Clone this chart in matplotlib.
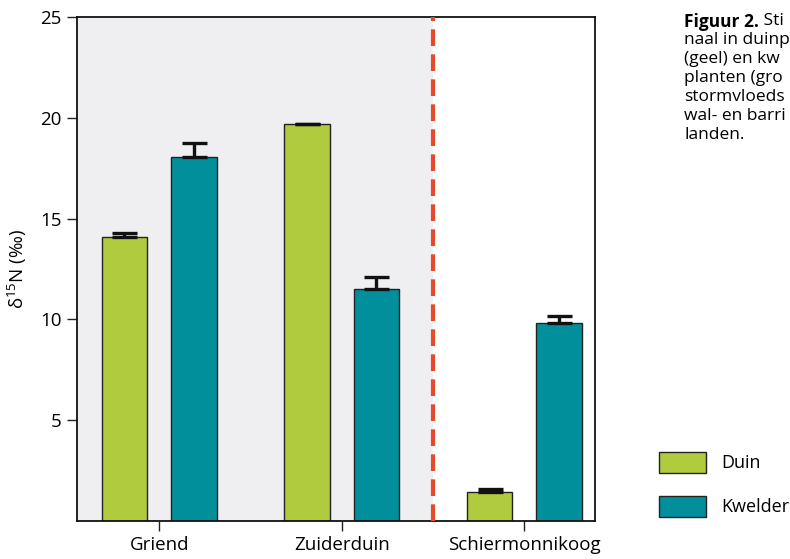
import matplotlib
matplotlib.use("Agg")
import matplotlib.pyplot as plt
import matplotlib.patches as mpatches
import numpy as np

plt.rcParams['font.family'] = ['Open Sans', 'DejaVu Sans']
plt.rcParams['mathtext.fontset'] = 'custom'
plt.rcParams['mathtext.rm'] = 'Open Sans'
plt.rcParams['mathtext.it'] = 'Open Sans:italic'
plt.rcParams['mathtext.bf'] = 'Open Sans:bold'

# delta 15N per locatie, duin- en kwelderplanten (met standaardfout)
locaties = ["Griend", "Zuiderduin", "Schiermonnikoog"]
duin = [14.1, 19.68, 1.43]
duin_fout = [0.2, 0.03, 0.12]
kwelder = [18.04, 11.5, 9.83]
kwelder_fout = [0.7, 0.6, 0.35]

kleur_duin = '#b1cb3f'
kleur_kwelder = '#008f9b'

fig = plt.figure(figsize=(7.9, 5.59), dpi=100)
ax = fig.add_axes([0.0975, 0.0685, 0.6557, 0.9005])

x = np.arange(len(locaties))
breedte = 0.25
offset = 0.19

# grijze achtergrond links van de scheidingslijn
ax.axvspan(-0.45, 1.5, color='#efeff2', zorder=0, lw=0)

ax.bar(x - offset, duin, breedte, color=kleur_duin, edgecolor='#222222', lw=1, zorder=2)
ax.bar(x + offset, kwelder, breedte, color=kleur_kwelder, edgecolor='#222222', lw=1, zorder=2)

err_kw = dict(fmt='none', ecolor='#111111', elinewidth=2.4, capsize=9, capthick=2.4, zorder=3)
ax.errorbar(x - offset, duin, yerr=[np.zeros(3), duin_fout], **err_kw)
ax.errorbar(x + offset, kwelder, yerr=[np.zeros(3), kwelder_fout], **err_kw)

ax.axvline(1.5, color='#e8492a', lw=3, ls=(0, (4, 2)), zorder=4)

ax.set_xlim(-0.45, 2.388)
ax.set_ylim(0, 25)
ax.set_yticks([5, 10, 15, 20, 25])
ax.set_xticks(x)
ax.set_xticklabels(locaties)
ax.tick_params(axis='both', direction='out', length=7, width=1, labelsize=13.5, color='#222222', pad=4)
ax.set_ylabel(r'δ$^{15}$N (‰)', fontsize=13.5)
ax.yaxis.set_label_coords(-0.093, 0.5)
for s in ax.spines.values():
    s.set_linewidth(1.3)
    s.set_color('#111111')

# legenda
handles = [mpatches.Patch(facecolor=kleur_duin, edgecolor='#222222', label='Duin'),
           mpatches.Patch(facecolor=kleur_kwelder, edgecolor='#222222', label='Kwelder')]
fig.legend(handles=handles, loc='lower left', bbox_to_anchor=(0.834, 0.075), frameon=False,
           fontsize=13, handlelength=2.6, handleheight=1.45, labelspacing=1.25, handletextpad=0.85,
           borderpad=0, borderaxespad=0)

# bijschrift rechtsboven
regels = ["naal in duinp", "(geel) en kw", "planten (gro", "stormvloeds",
          "wal- en barri", "landen."]
x0 = 684 / 790
y0 = 1 - 13 / 559
stap = 19 / 559
kop = fig.text(x0, y0, "Figuur 2.", fontsize=12.5, fontweight='bold', va='top')
fig.canvas.draw()
bb = kop.get_window_extent().transformed(fig.transFigure.inverted())
fig.text(bb.x1, y0, " Sti", fontsize=12.5, va='top')
for i, r in enumerate(regels, start=1):
    fig.text(x0, y0 - i * stap, r, fontsize=12.5, va='top')

fig.savefig('out.png', dpi=100)
